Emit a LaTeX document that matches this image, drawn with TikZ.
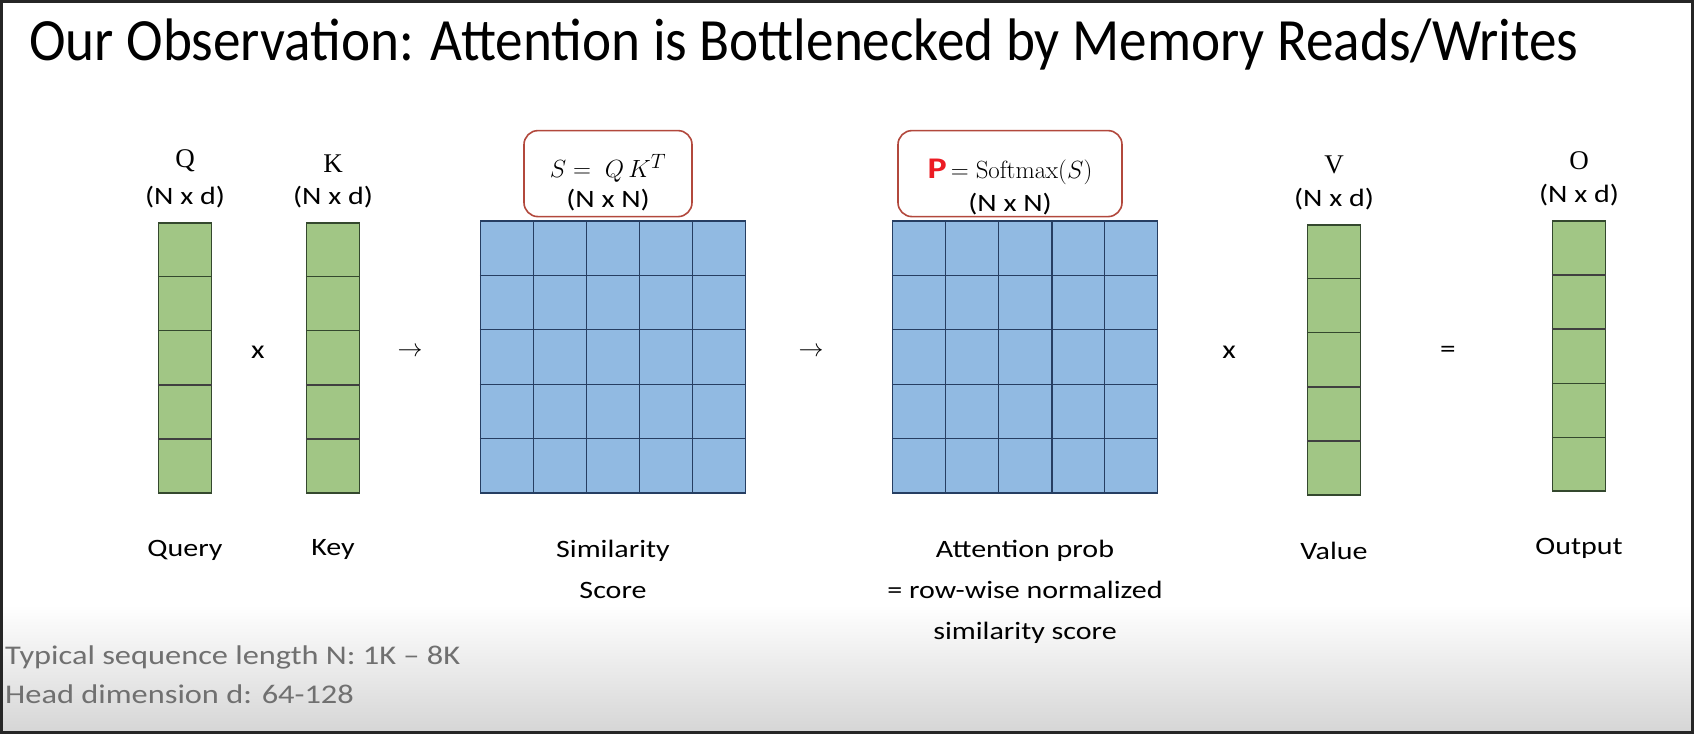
\documentclass[tikz,border=0pt]{standalone}
\usepackage[no-math]{fontspec}
\usepackage{amsmath}
\usepackage{tikz}
\usetikzlibrary{positioning}
\usetikzlibrary{calc}
\setmainfont{Carlito}
\newfontfamily\slidefont[FakeStretch=1.2]{Carlito}
\newfontfamily\headfont[FakeStretch=0.92]{Carlito}
\newfontfamily\letterfont{Liberation Serif}
\definecolor{cellgreen}{RGB}{161,198,133}
\definecolor{linegreen}{RGB}{52,72,46}
\definecolor{cellblue}{RGB}{145,186,226}
\definecolor{lineblue}{RGB}{38,62,98}
\definecolor{boxred}{RGB}{178,72,60}
\definecolor{pred}{RGB}{236,28,36}
\definecolor{notegray}{RGB}{112,112,112}
\definecolor{framegray}{RGB}{38,38,38}

\begin{document}
\begin{tikzpicture}[
    x=1pt, y=-1pt,
    vec/.style={rectangle, draw=linegreen, fill=cellgreen, line width=1.2pt, minimum width=53pt, minimum height=270pt, inner sep=0pt},
    mat/.style={rectangle, draw=lineblue, fill=cellblue, line width=1.2pt, minimum width=265pt, minimum height=272pt, inner sep=0pt},
    gline/.style={draw=linegreen, line width=1pt},
    bline/.style={draw=lineblue, line width=1pt},
    formula/.style={rectangle, draw=boxred, line width=1.6pt, rounded corners=14pt, fill=white, align=center, inner sep=0pt},
    lab/.style={font=\slidefont\fontsize{25}{41}\selectfont, align=center, inner sep=0pt},
    letterlab/.style={font=\letterfont\fontsize{27}{30}\selectfont, inner sep=0pt},
    op/.style={font=\slidefont\fontsize{26}{30}\selectfont, inner sep=0pt},
    note/.style={font=\slidefont\fontsize{27}{39}\selectfont, text=notegray, align=left, inner sep=0pt, anchor=north west}
]
    % slide background
    \fill[white] (0,0) rectangle (1694,734);
    \useasboundingbox (0,0) rectangle (1694,734);
    \shade[top color=white, bottom color={rgb,255:red,214;green,214;blue,214}] (3,605) rectangle (1691,731);
    \draw[framegray, line width=3pt] (1.5,1.5) rectangle (1692.5,732.5);

    \node[anchor=west, font=\headfont\fontsize{60}{66}\selectfont, inner sep=0pt] (title) at (29,45) {Our Observation: Attention is Bottlenecked by Memory Reads/Writes};

    % operands
    \node[vec] (q) at (185,358) {};
    \node[vec] (k) at (333,358) {};
    \node[mat] (s) at (613,357) {};
    \node[mat] (p) at (1025,357) {};
    \node[vec] (v) at (1334,360) {};
    \node[vec] (o) at (1579,356) {};

    \foreach \m in {q,k,v,o}
        \foreach \i in {1,...,4}
            \draw[gline] ($(\m.north west)!\i/5!(\m.south west)$) -- ($(\m.north east)!\i/5!(\m.south east)$);
    \foreach \m in {s,p}
        \foreach \i in {1,...,4} {
            \draw[bline] ($(\m.north west)!\i/5!(\m.south west)$) -- ($(\m.north east)!\i/5!(\m.south east)$);
            \draw[bline] ($(\m.north west)!\i/5!(\m.north east)$) -- ($(\m.south west)!\i/5!(\m.south east)$);
        }
    % darker rules
    \foreach \m in {q,k,v}
        \foreach \i in {3,4}
            \draw[gline, line width=2pt, draw=black!75] ($(\m.north west)!\i/5!(\m.south west)$) -- ($(\m.north east)!\i/5!(\m.south east)$);
    \foreach \i in {1,2}
        \draw[gline, line width=2pt, draw=black!75] ($(o.north west)!\i/5!(o.south west)$) -- ($(o.north east)!\i/5!(o.south east)$);
    \draw[bline, line width=2pt] ($(p.north west)!3/5!(p.north east)$) -- ($(p.south west)!3/5!(p.south east)$);

    % headings
    \node[lab, above=14pt of q] (qdim) {(N x d)};
    \node[letterlab, above=14pt of qdim] (qname) {Q};
    \node[lab, above=14pt of k] (kdim) {(N x d)};
    \node[letterlab, above=14pt of kdim] (kname) {K};
    \node[lab, above=14pt of v] (vdim) {(N x d)};
    \node[letterlab, above=14pt of vdim] (vname) {V};
    \node[lab, above=14pt of o] (odim) {(N x d)};
    \node[letterlab, above=14pt of odim] (oname) {O};

    \node[formula, minimum width=168pt, minimum height=86pt, above=3pt of s, xshift=-5pt] (sbox) {};
    \node[font=\fontsize{28}{30}\selectfont, inner sep=0pt] (seq) at ($(sbox.center)+(0,-5)$) {$S=\;Q\,K^{T}$};
    \node[lab, below=6pt of seq] (sdim) {(N x N)};
    \node[formula, minimum width=224pt, minimum height=86pt, above=3pt of p, xshift=-15pt] (pbox) {};
    \node[font=\fontsize{30}{32}\selectfont, inner sep=0pt] (peq) at ($(pbox.center)+(0,-2)$) {\textcolor{pred}{\slidefont\bfseries P}$\,=\mathrm{Softmax}(S)$};
    \node[lab, below=8pt of peq] (pdim) {(N x N)};

    % operators
    \node[op] (times1) at (258,352) {x};
    \node[font=\fontsize{28}{30}\selectfont, inner sep=0pt] (to1) at (410,352) {$\rightarrow$};
    \node[font=\fontsize{28}{30}\selectfont, inner sep=0pt] (to2) at (811,352) {$\rightarrow$};
    \node[op] (times2) at (1229,352) {x};
    \node[op] (equals) at (1448,352) {=};

    % captions
    \node[lab, below=46pt of q, anchor=north] (qlab) {Query};
    \node[lab, below=46pt of k, anchor=north] (klab) {Key};
    \node[lab, below=46pt of s, anchor=north] (slab) {Similarity\\Score};
    \node[lab, below=46pt of p, anchor=north] (plab) {Attention prob\\= row-wise normalized\\similarity score};
    \node[lab, below=46pt of v, anchor=north] (vlab) {Value};
    \node[lab, below=46pt of o, anchor=north] (olab) {Output};

    \node[note] (facts) at (5,646) {Typical sequence length N: 1K – 8K\\Head dimension d: 64-128};
\end{tikzpicture}
\end{document}
